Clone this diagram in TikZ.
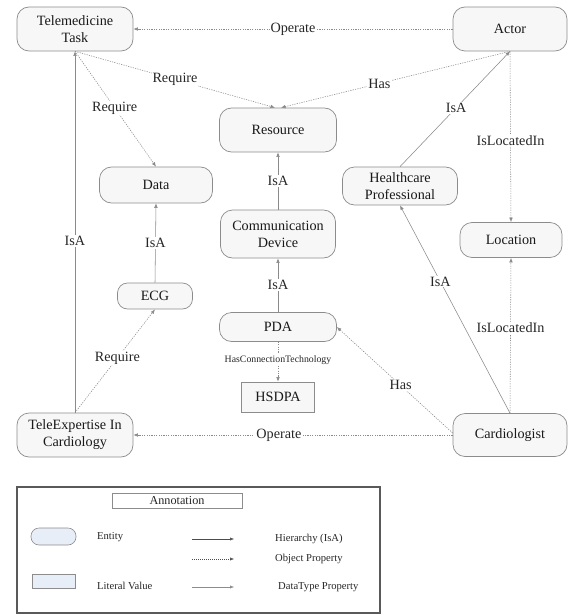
\documentclass[tikz,border=0pt]{standalone}
\usepackage{fontspec}
\setmainfont{Liberation Serif}
\usetikzlibrary{arrows.meta}
\definecolor{edgegray}{HTML}{8A8A8A}
\definecolor{boxgray}{HTML}{8C8C8C}
\definecolor{nodefill}{HTML}{F7F7F7}
\definecolor{entityfill}{HTML}{E8EEF8}
\begin{document}
\begin{tikzpicture}[x=1pt,y=-1pt,
  entity/.style={draw=boxgray, fill=nodefill, rounded corners=12pt, line width=0.7pt,
    align=center, inner sep=0pt, font=\fontsize{14.2}{17}\selectfont, text=black!90},
  literal/.style={draw=boxgray, fill=nodefill, line width=0.7pt, inner sep=0pt,
    font=\fontsize{14.2}{17}\selectfont, text=black!90},
  isa/.style={draw=edgegray, line width=0.55pt, -{Latex[length=4.5pt,width=3.6pt]}},
  objprop/.style={isa, dash pattern=on 1.2pt off 1.2pt},
  lbl/.style={fill=white, inner sep=1pt, font=\fontsize{14.2}{15}\selectfont, text=black!85},
  smalllbl/.style={fill=white, inner sep=1pt, font=\fontsize{9.8}{11}\selectfont, text=black!85},
  legtext/.style={anchor=west, inner sep=0pt, font=\fontsize{10.6}{12}\selectfont, text=black!85},
  legarrow/.style={draw=black!70, line width=0.5pt, -{Latex[length=4pt,width=3.2pt]}},
]
\useasboundingbox (0,0) rectangle (568,615);

% nodes
\node[entity, minimum width=116pt, minimum height=44pt] (tt) at (75,29) {Telemedicine\\Task};
\node[entity, minimum width=114pt, minimum height=44pt] (actor) at (510,29) {Actor};
\node[entity, minimum width=117pt, minimum height=44pt] (res) at (278,130) {Resource};
\node[entity, minimum width=113pt, minimum height=36pt] (data) at (156,185) {Data};
\node[entity, minimum width=115pt, minimum height=48pt] (comm) at (278,234) {Communication\\Device};
\node[entity, minimum width=115pt, minimum height=38pt] (hp) at (400,186) {Healthcare\\Professional};
\node[entity, minimum width=102pt, minimum height=35pt] (loc) at (511,240) {Location};
\node[entity, minimum width=75pt, minimum height=26pt, rounded corners=10pt] (ecg) at (155,296) {ECG};
\node[entity, minimum width=117pt, minimum height=29pt, rounded corners=12pt] (pda) at (278,327) {PDA};
\node[literal, minimum width=73pt, minimum height=30pt] (hsdpa) at (278,397) {HSDPA};
\node[entity, minimum width=116pt, minimum height=44pt] (tele) at (75,435) {TeleExpertise In\\Cardiology};
\node[entity, minimum width=114pt, minimum height=43pt] (card) at (510,435) {Cardiologist};

% edges
\draw[objprop] (actor) -- node[lbl, pos=0.5] {Operate} (tt);
\draw[objprop] (tt.south) -- node[lbl, pos=0.5] {Require} ([xshift=-3pt]res.north);
\draw[objprop] (actor.south) -- node[lbl, pos=0.57] {Has} ([xshift=3pt]res.north);
\draw[objprop] (tt.south) -- node[lbl, pos=0.49] {Require} (data.north);
\draw[isa] (tele.north) -- node[lbl, pos=0.475] {IsA} (tt.south);
\draw[isa] (ecg.north) -- node[lbl, pos=0.5] {IsA} (data.south);
\draw[objprop] (tele.north) -- node[lbl, pos=0.53] {Require} (ecg.south);
\draw[isa] (comm.north) -- node[lbl, pos=0.5] {IsA} (res.south);
\draw[isa] (pda.north) -- node[lbl, pos=0.5] {IsA} (comm.south);
\draw[objprop] (pda.south) -- node[smalllbl, pos=0.45] {HasConnectionTechnology} (hsdpa.north);
\draw[isa] (hp.north) -- node[lbl, pos=0.51] {IsA} (actor.south);
\draw[objprop] (actor.south) -- node[lbl, pos=0.52] {IsLocatedIn} (loc.north);
\draw[objprop] (card.north) -- node[lbl, pos=0.55] {IsLocatedIn} (loc.south);
\draw[isa] (card.north) -- node[lbl, pos=0.633] {IsA} (hp.south);
\draw[objprop] ([yshift=2pt]card.west) -- node[lbl, pos=0.45] {Has} (pda.east);
\draw[objprop] (card.west) -- node[lbl, pos=0.544] {Operate} (tele.east);

% legend
\node[draw=black!65, line width=1.2pt, minimum width=363pt, minimum height=126pt, inner sep=0pt] (legend) at (198.5,550) {};
\node[draw=boxgray, line width=0.6pt, minimum width=130pt, minimum height=15pt, inner sep=0pt,
  font=\fontsize{12.2}{13}\selectfont, text=black!85] (annot) at (177,501) {Annotation};
\node[draw=boxgray, fill=entityfill, rounded corners=8pt, line width=0.6pt,
  minimum width=45pt, minimum height=17pt, inner sep=0pt] (entsample) at (53.5,536.5) {};
\node[draw=boxgray, fill=entityfill, line width=0.6pt,
  minimum width=43pt, minimum height=14pt, inner sep=0pt] (litsample) at (53.5,581) {};
\node[legtext] (enttext) at (97,537) {Entity};
\node[legtext] (littext) at (97,586) {Literal Value};
\node[legtext] (isatext) at (275,539) {Hierarchy (IsA)};
\node[legtext] (optext) at (275,559) {Object Property};
\node[legtext] (dttext) at (278,587) {DataType Property};
\coordinate (la1) at (192,539); \coordinate (lb1) at (234,539);
\coordinate (la2) at (192,559); \coordinate (lb2) at (234,559);
\coordinate (la3) at (192,587); \coordinate (lb3) at (234,587);
\draw[legarrow] (la1) -- (lb1);
\draw[legarrow, dash pattern=on 1pt off 1pt] (la2) -- (lb2);
\draw[legarrow, draw=black!45, line width=0.4pt] (la3) -- (lb3);
\end{tikzpicture}
\end{document}
